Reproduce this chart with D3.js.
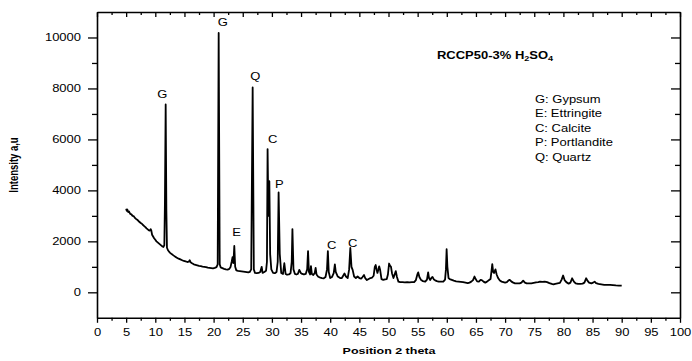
<!DOCTYPE html>
<html><head><meta charset="utf-8">
<script src="https://cdn.jsdelivr.net/npm/d3@7"></script>
<style>body{margin:0;background:#fff} svg{display:block}</style>
</head><body><svg id="c" width="692" height="361"></svg>
<script>
// ---- data ----
const twoTheta = [5.0,5.1,5.2,5.35,5.5,5.7,5.9,6.1,6.3,6.5,6.7,6.9,7.1,7.3,7.5,7.7,7.9,8.1,8.3,8.5,8.7,8.9,9.05,9.2,9.3,9.45,9.6,9.8,10.0,10.2,10.4,10.6,10.8,11.0,11.2,11.4,11.55,11.65,11.78,11.9,12.0,12.2,12.5,12.8,13.1,13.4,13.7,14.0,14.3,14.6,14.9,15.2,15.5,15.75,15.9,16.05,16.3,16.6,16.9,17.2,17.5,17.8,18.1,18.4,18.7,19.0,19.3,19.6,19.9,20.2,20.5,20.7,20.87,21.05,21.2,21.5,21.8,22.1,22.4,22.7,22.9,23.1,23.25,23.4,23.55,23.7,23.9,24.2,24.5,24.8,25.1,25.4,25.7,25.95,26.2,26.45,26.7,26.9,27.1,27.4,27.7,28.0,28.25,28.4,28.7,29.0,29.15,29.26,29.4,29.56,29.7,29.9,30.2,30.5,30.8,31.0,31.15,31.35,31.6,31.9,32.13,32.35,32.6,32.9,33.2,33.4,33.52,33.7,33.95,34.2,34.45,34.7,34.95,35.2,35.5,35.8,36.05,36.2,36.35,36.55,36.7,36.85,37.1,37.35,37.5,37.65,37.95,38.3,38.6,38.9,39.2,39.45,39.6,39.75,40.0,40.3,40.6,40.8,40.95,41.3,41.7,42.0,42.3,42.45,42.7,43.0,43.25,43.45,43.65,43.85,44.1,44.4,44.7,45.0,45.3,45.55,45.8,46.0,46.3,46.6,46.9,47.2,47.45,47.65,47.8,47.95,48.1,48.25,48.4,48.55,48.8,49.1,49.4,49.7,49.9,50.1,50.25,50.43,50.6,50.85,51.05,51.25,51.45,51.7,52.0,52.4,52.8,53.2,53.6,54.0,54.4,54.7,54.95,55.1,55.3,55.6,55.9,56.3,56.6,56.8,56.95,57.15,57.4,57.55,57.8,58.0,58.3,58.6,59.0,59.4,59.7,59.85,59.97,60.1,60.3,60.5,60.85,61.2,61.6,62.0,62.4,62.8,63.2,63.6,63.9,64.2,64.5,64.75,64.95,65.2,65.5,65.8,66.0,66.3,66.6,66.9,67.2,67.5,67.65,67.8,67.95,68.1,68.35,68.55,68.8,69.1,69.4,69.7,70.0,70.3,70.6,70.8,71.1,71.4,71.7,72.1,72.5,72.8,73.1,73.4,73.7,74.1,74.5,74.9,75.3,75.7,76.0,76.4,76.8,77.2,77.6,78.0,78.3,78.6,79.0,79.4,79.7,79.95,80.2,80.5,80.9,81.2,81.5,81.8,82.1,82.5,82.9,83.3,83.6,83.9,84.15,84.4,84.8,85.1,85.35,85.6,86.0,86.5,87.0,87.5,88.0,88.5,89.0,89.5,90.0];
const intensity = [3280,3200,3250,3150,3170,3080,3060,3000,2990,2920,2880,2850,2800,2760,2720,2690,2640,2600,2560,2510,2470,2430,2420,2480,2440,2260,2200,2120,2060,2000,1960,1920,1880,1840,1800,1780,1850,3500,7370,3200,1750,1640,1560,1500,1450,1400,1360,1320,1290,1260,1230,1210,1190,1200,1260,1180,1140,1100,1080,1060,1040,1030,1010,1000,990,970,960,950,940,960,990,1100,10180,1100,980,950,920,900,890,920,990,1200,1380,1150,1820,1000,860,840,830,820,810,800,790,780,800,900,8040,900,760,750,760,800,1000,760,800,850,1200,5620,3000,4360,1500,900,760,750,800,1200,3920,1500,760,720,1140,720,690,700,750,1200,2480,900,720,700,720,880,760,720,700,720,900,1620,800,700,1030,720,680,760,960,700,610,580,560,550,600,900,1620,800,560,600,750,1100,800,620,560,560,680,740,620,560,900,1740,1000,880,620,560,620,560,540,600,680,560,480,520,560,580,650,1000,1070,900,760,880,1020,900,520,490,510,520,700,1130,1050,1000,750,560,700,830,600,420,400,400,390,400,390,400,400,480,700,780,600,480,440,420,500,780,560,480,580,600,500,470,440,420,420,420,500,900,1690,1000,560,520,490,460,430,420,410,400,380,360,380,420,480,620,520,430,420,490,480,420,380,420,470,520,800,1110,800,760,900,700,560,460,420,400,380,400,470,490,420,380,350,350,350,380,460,380,350,350,350,370,390,400,420,410,420,400,360,330,310,330,350,370,500,660,480,400,340,380,550,420,350,330,330,340,380,550,450,380,350,380,420,360,330,310,290,290,290,280,270,265,260];

const xTicks = [0,5,10,15,20,25,30,35,40,45,50,55,60,65,70,75,80,85,90,95,100];
const yTicks = [0,2000,4000,6000,8000,10000];

const peakLabels = ["G","G","Q","C","P","E","C","C"];
const peakLabelTheta = [11.2,21.56,27.15,30.14,31.27,23.96,40.24,43.84];
const peakLabelI = [7617,10459,8322,5872,4108,2207,1717,1776];

const legendItems = ["G: Gypsum","E: Ettringite","C: Calcite","P: Portlandite","Q: Quartz"];
const xTitle = "Position 2 theta";
const yTitle = "Intensity a,u";

// ---- layout ----
const SX = 1.3;
const FONT = "'Liberation Sans', Arial, Helvetica, sans-serif";
const svg = d3.select("#c");
const x = d3.scaleLinear().domain([0,100]).range([97,680]);
const y = d3.scaleLinear().domain([-1000,11000]).range([317.8,12]);

const xMinor = xTicks.slice(0,-1).map(v=>v+2.5);
const yMinorVals = yTicks.slice(0,-1).map(v=>v+1000);

function styleAxis(g){
  g.selectAll("path.domain").attr("stroke","#000").attr("stroke-width",1.6);
  g.selectAll(".tick line").attr("stroke","#000").attr("stroke-width",1.3);
  g.selectAll("text").attr("fill","#000").style("font-family",FONT).style("font-size","10px");
}

// bottom
const gb = svg.append("g").attr("transform",`translate(0,${y.range()[0]})`)
  .call(d3.axisBottom(x).tickValues(xTicks).tickSize(5).tickSizeOuter(0).tickPadding(6));
styleAxis(gb);
gb.selectAll("text").attr("transform",`scale(${SX},1)`);
const gbm = svg.append("g").attr("transform",`translate(0,${y.range()[0]})`)
  .call(d3.axisBottom(x).tickValues(xMinor).tickSize(3).tickFormat(""));
styleAxis(gbm); gbm.select("path.domain").remove();

// top (inward)
const gt = svg.append("g").attr("transform",`translate(0,${y.range()[1]})`)
  .call(d3.axisBottom(x).tickValues(xTicks).tickSize(5).tickSizeOuter(0).tickFormat(""));
styleAxis(gt);
const gtm = svg.append("g").attr("transform",`translate(0,${y.range()[1]})`)
  .call(d3.axisBottom(x).tickValues(xMinor).tickSize(3).tickFormat(""));
styleAxis(gtm); gtm.select("path.domain").remove();

// left
const gl = svg.append("g").attr("transform",`translate(${x.range()[0]},0)`)
  .call(d3.axisLeft(y).tickValues(yTicks).tickSize(9).tickSizeOuter(0).tickFormat(d3.format("d")));
styleAxis(gl);
gl.selectAll("text").attr("x",-16/SX).attr("transform",`scale(${SX},1)`);
const glm = svg.append("g").attr("transform",`translate(${x.range()[0]},0)`)
  .call(d3.axisLeft(y).tickValues(yMinorVals).tickSize(5).tickFormat(""));
styleAxis(glm); glm.select("path.domain").remove();

// right (inward)
const gr = svg.append("g").attr("transform",`translate(${x.range()[1]},0)`)
  .call(d3.axisLeft(y).tickValues(yTicks).tickSize(9).tickSizeOuter(0).tickFormat(""));
styleAxis(gr);
const grm = svg.append("g").attr("transform",`translate(${x.range()[1]},0)`)
  .call(d3.axisLeft(y).tickValues(yMinorVals).tickSize(5).tickFormat(""));
styleAxis(grm); grm.select("path.domain").remove();

// curve
const pts = twoTheta.map((t,i)=>[t,intensity[i]]);
svg.append("path").datum(pts)
  .attr("fill","none").attr("stroke","#000").attr("stroke-width",1.8).attr("stroke-linejoin","round")
  .attr("d", d3.line().x(d=>x(d[0])).y(d=>y(d[1])));

// peak labels
svg.append("g").selectAll("text").data(peakLabels).join("text")
  .attr("transform",(d,i)=>`translate(${x(peakLabelTheta[i])},${y(peakLabelI[i])}) scale(${SX},1)`)
  .attr("text-anchor","middle")
  .style("font-family",FONT).style("font-size","10px").attr("fill","#000")
  .text(d=>d);

// title
const title = svg.append("text")
  .attr("transform",`translate(437,58.5) scale(${SX},1)`)
  .style("font-family",FONT).style("font-size","10px").style("font-weight","bold").attr("fill","#000");
title.append("tspan").text("RCCP50-3% H");
title.append("tspan").attr("dy",2.5).style("font-size","7px").text("2");
title.append("tspan").attr("dy",-2.5).text("SO");
title.append("tspan").attr("dy",2.5).style("font-size","7px").text("4");

// legend
const legendY = [102.5,117,131.5,146,160.5];
svg.append("g").selectAll("text").data(legendItems).join("text")
  .attr("transform",(d,i)=>`translate(535,${legendY[i]}) scale(${SX},1)`)
  .style("font-family",FONT).style("font-size","10px").attr("fill","#000")
  .text(d=>d);

// axis titles
svg.append("text")
  .attr("transform",`translate(389,354) scale(${SX},1)`)
  .attr("text-anchor","middle")
  .style("font-family",FONT).style("font-size","9.6px").style("font-weight","bold").attr("fill","#000")
  .text(xTitle);
svg.append("text")
  .attr("transform",`translate(18,165) scale(${SX},1) rotate(-90)`)
  .attr("text-anchor","middle")
  .style("font-family",FONT).style("font-size","9.5px").style("font-weight","bold").attr("fill","#000")
  .text(yTitle);
</script></body></html>
